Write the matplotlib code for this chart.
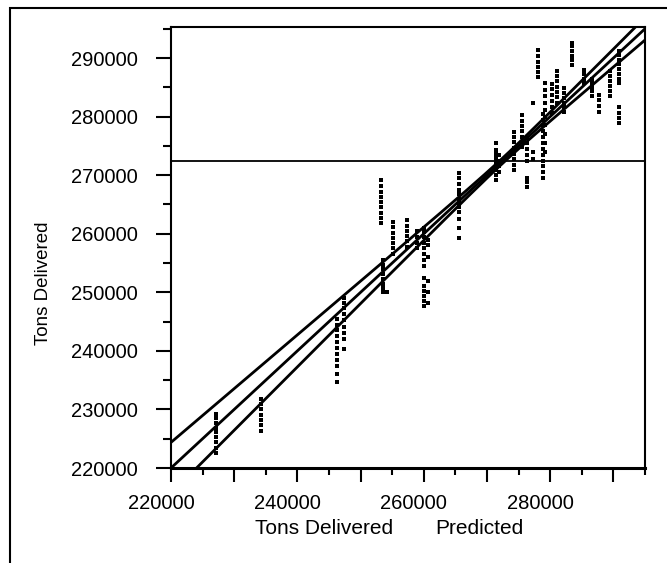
import matplotlib.pyplot as plt
import matplotlib.transforms as mtransforms
from matplotlib.patches import Rectangle
import numpy as np

plt.rcParams['font.family'] = ['Liberation Sans', 'DejaVu Sans']

# predicted tonnage for each column of cases, and the delivered tonnage of those cases
col_pred = [227100, 234200, 246200, 247300, 253300, 253500, 254100, 255200,
            257400, 259000, 260100, 260600, 265600, 271500, 271900, 274200,
            275600, 276300, 277200, 278100, 278800, 279100, 280300, 281100,
            282200, 283500, 285300, 286600, 287700, 289500, 290900, 290900]
col_actual = [
    [222600, 223500, 224400, 225300, 226100, 226900, 227700, 228500, 229300],
    [226400, 227300, 228200, 229100, 230000, 230900, 231700],
    [234700, 236000, 237500, 238500, 239500, 240500, 241500, 242500, 243500, 244500, 245500],
    [240300, 242000, 243000, 244000, 245200, 246300, 247300, 248200, 249000],
    [261800, 262700, 263600, 264500, 265400, 266300, 267200, 268200, 269200],
    [250000, 250700, 251500, 252300, 253100, 253900, 254700, 255500],
    [250000],
    [256500, 257500, 258400, 259300, 260200, 261100, 262000],
    [257800, 258700, 259600, 260500, 261400, 262300],
    [257500, 258500, 259500, 260500],
    [247700, 248500, 249300, 250200, 251000, 252500, 254500, 255500, 256500,
     257500, 258500, 259400, 260300, 261000],
    [248200, 250000, 252000, 256000, 258000, 259000],
    [259300, 261000, 262600, 263700, 264500, 265300, 266000, 266700, 267500,
     268500, 269500, 270400],
    [269200, 270000, 270800, 271500, 272200, 272900, 273600, 274300, 275500],
    [270500, 271500, 272500, 273500],
    [270900, 271800, 272700, 273700, 274700, 275600, 276500, 277300],
    [274800, 275700, 276600, 277500, 278400, 279300, 280300],
    [268000, 268800, 269600, 272500, 273500, 274500, 275500, 276400],
    [272800, 274000, 282300],
    [286800, 287600, 288500, 289400, 290300, 291300],
    [269500, 270500, 271500, 272500, 273500, 274500, 275500, 276500, 277500,
     278500, 279500, 280500],
    [274000, 275500, 277000, 278500, 280000, 281200, 282400, 283500, 284600, 285800],
    [280700, 281700, 282700, 283700, 284700, 285600],
    [282400, 283300, 284200, 285100, 286000, 286900, 287800],
    [280800, 281600, 282400, 283200, 284000, 284800],
    [288800, 289600, 290400, 291200, 292000, 292500],
    [285700, 286500, 287300, 287900],
    [283600, 284300, 285000, 285700, 286500],
    [280800, 281800, 282800, 283700],
    [283500, 284400, 285300, 286100, 287000, 287800],
    [285700, 286500, 287300, 288100, 288900, 289700, 290500, 291200],
    [278900, 279800, 280700, 281600],
]

# fit of delivered on predicted (slope 1 through origin) and its 95% band
fit_slope = 1.0
mean_delivered = 272400
band_spread = 0.083
band_waist = 450

x_min, x_max = 220000, 295000
y_min, y_max = 220000, 295300


def band(x):
    return np.sqrt(band_waist ** 2 + (band_spread * (x - mean_delivered)) ** 2)


pred = np.concatenate([[p] * len(ys) for p, ys in zip(col_pred, col_actual)])
actual = np.concatenate(col_actual)

fig = plt.figure(figsize=(6.67, 5.63), dpi=100)
ax = fig.add_axes([171 / 667, 1 - 468 / 563, (645 - 171) / 667, (468 - 27) / 563])

ax.plot(pred, actual, 's', color='black', ms=3.5, mew=0, zorder=3)

xs = np.linspace(x_min, x_max, 400)
ax.plot(xs, fit_slope * xs, color='black', lw=2)
ax.plot(xs, fit_slope * xs + band(xs), color='black', lw=2)
ax.plot(xs, fit_slope * xs - band(xs), color='black', lw=2)
ax.axhline(mean_delivered, color='black', lw=1.3)

ax.set_xlim(x_min, x_max)
ax.set_ylim(y_min, y_max)

xt = np.arange(220000, 295000, 10000)
ax.set_xticks(xt)
ax.set_xticklabels([str(v) if v % 20000 == 0 else '' for v in xt])
ax.set_xticks(np.arange(225000, 295001, 10000), minor=True)
yt = np.arange(220000, 295000, 10000)
ax.set_yticks(yt)
ax.set_yticklabels([str(v) for v in yt])
ax.set_yticks(np.arange(225000, 295001, 10000), minor=True)

ax.tick_params(axis='x', which='major', length=10, width=1.5, pad=9, labelsize=14.5)
ax.tick_params(axis='x', which='minor', length=5, width=1.5)
ax.tick_params(axis='y', which='major', length=11, width=1.5, pad=13, labelsize=14.5)
ax.tick_params(axis='y', which='minor', length=6, width=1.5)

shift = mtransforms.ScaledTranslation(-10 / 100, 0, fig.dpi_scale_trans)
for tick in ax.xaxis.get_major_ticks():
    tick.label1.set_transform(tick.label1.get_transform() + shift)

for side in ['left', 'top', 'right']:
    ax.spines[side].set_linewidth(1.5)
ax.spines['bottom'].set_linewidth(2.2)

fig.text(255 / 667, 1 - 528 / 563, 'Tons Delivered', fontsize=15, ha='left', va='center')
fig.text(435 / 667, 1 - 528 / 563, 'Predicted', fontsize=15, ha='left', va='center')
fig.text(43 / 667, 1 - 283 / 563, 'Tons Delivered', fontsize=13.5, rotation=90,
         ha='center', va='center')

# frame round the whole chart
fig.add_artist(Rectangle((10 / 667, -0.1), 1.2, 1.1 - 8 / 563, transform=fig.transFigure,
                         fill=False, lw=1.5, color='black'))

fig.savefig('out.png', dpi=100)
